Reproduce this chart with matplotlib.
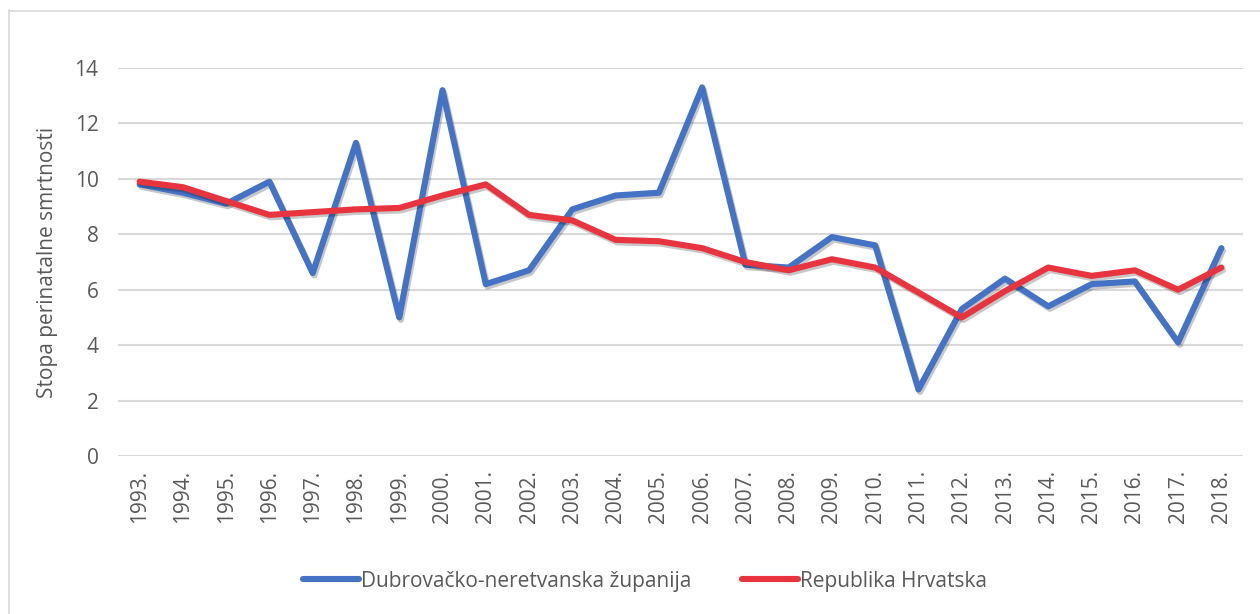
import matplotlib
matplotlib.use("Agg")
import matplotlib.pyplot as plt
import matplotlib.patheffects as pe
from matplotlib.lines import Line2D

years = ["1993.", "1994.", "1995.", "1996.", "1997.", "1998.", "1999.", "2000.", "2001.",
         "2002.", "2003.", "2004.", "2005.", "2006.", "2007.", "2008.", "2009.", "2010.",
         "2011.", "2012.", "2013.", "2014.", "2015.", "2016.", "2017.", "2018."]
dubrovacko = [9.8, 9.5, 9.1, 9.9, 6.6, 11.3, 5.0, 13.2, 6.2,
              6.7, 8.9, 9.4, 9.5, 13.3, 6.9, 6.8, 7.9, 7.6,
              2.4, 5.3, 6.4, 5.4, 6.2, 6.3, 4.1, 7.5]
hrvatska = [9.9, 9.7, 9.2, 8.7, 8.8, 8.9, 8.95, 9.4, 9.8,
            8.7, 8.5, 7.8, 7.75, 7.5, 7.0, 6.7, 7.1, 6.8,
            5.9, 5.0, 5.95, 6.8, 6.5, 6.7, 6.0, 6.8]
series_names = ["Dubrovačko-neretvanska županija", "Republika Hrvatska"]
y_label = "Stopa perinatalne smrtnosti"
y_ticks = [0, 2, 4, 6, 8, 10, 12, 14]

plt.rcParams['font.family'] = ['Open Sans', 'DejaVu Sans']
TXT = '#595959'
BLUE = '#4472C4'
RED = '#E8343F'
FS = 15

W, H = 1260, 614
fig = plt.figure(figsize=(W / 100, H / 100), dpi=100)
L, R, B, T = 118, 1243, 456, 68
ax = fig.add_axes([L / W, 1 - B / H, (R - L) / W, (B - T) / H])

x = list(range(len(years)))
shadow = [pe.SimpleLineShadow(offset=(1.2, -1.8), shadow_color='#000000', alpha=0.22),
          pe.Normal()]
ax.plot(x, dubrovacko, color=BLUE, lw=4.4, solid_capstyle='round', solid_joinstyle='round',
        label=series_names[0], path_effects=shadow, zorder=3)
ax.plot(x, hrvatska, color=RED, lw=4.4, solid_capstyle='round', solid_joinstyle='round',
        label=series_names[1], path_effects=shadow, zorder=4)

ax.set_xlim(-0.5, len(years) - 0.5)
ax.set_ylim(0, 14)
ax.set_yticks(y_ticks)
ax.set_xticks(x)
ax.set_xticklabels(years, rotation=90)
ax.tick_params(axis='both', length=0, labelsize=FS, labelcolor=TXT)
ax.tick_params(axis='y', pad=14)
ax.tick_params(axis='x', pad=10)
ax.grid(axis='y', color='#D9D9D9', lw=1.5)
ax.set_axisbelow(True)
for s in ax.spines.values():
    s.set_visible(False)
ax.set_ylabel(y_label, fontsize=FS, color=TXT)
ax.yaxis.set_label_coords(-0.053, 0.5)

handles = [Line2D([], [], color=BLUE, lw=4.4, solid_capstyle='round'),
           Line2D([], [], color=RED, lw=4.4, solid_capstyle='round')]
fig.legend(handles, series_names, loc='center', bbox_to_anchor=(0.512, 1 - 581 / H),
           ncol=2, frameon=False, fontsize=FS, labelcolor=TXT, handlelength=2.7,
           handletextpad=0.1, columnspacing=2.4)

# outer chart border (left and top visible)
fig.add_artist(Line2D([8.5 / W, 8.5 / W], [0, 1 - 10 / H], color='#D9D9D9', lw=1.2,
                      transform=fig.transFigure))
fig.add_artist(Line2D([8.5 / W, 1], [1 - 10.5 / H, 1 - 10.5 / H], color='#D9D9D9', lw=1.2,
                      transform=fig.transFigure))

fig.savefig("out.png", dpi=100, facecolor='white')
